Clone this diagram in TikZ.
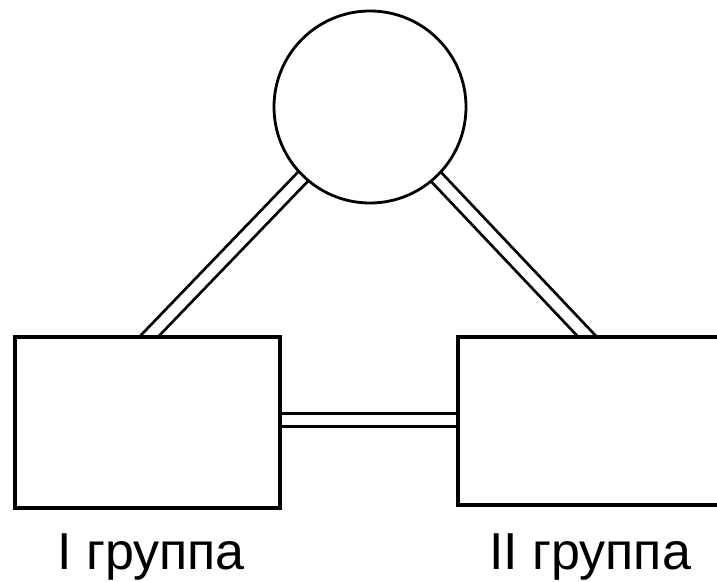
\documentclass[tikz,border=0pt]{standalone}
\usepackage{fontspec}
\setmainfont{Liberation Sans}
\usetikzlibrary{positioning,calc,backgrounds}

\begin{document}
\begin{tikzpicture}[
    hub/.style={circle, draw, line width=2pt, fill=white, minimum size=4.8cm, inner sep=0pt},
    groupbox/.style={rectangle, draw, line width=2.4pt, fill=white, inner sep=0pt},
    link/.style={draw, line width=2pt, double=white, double distance=7.5pt},
    lbl/.style={font=\fontsize{37}{40}\selectfont, anchor=base, inner sep=0pt}
  ]
  \clip (0,0) rectangle (17.925,14.55); % page frame
  % centre and the two groups
  \node[hub] (c) at (9.25,11.875) {};
  \node[groupbox, minimum width=6.625cm, minimum height=4.275cm] (g1) at (3.6875,3.9875) {};
  \node[groupbox, minimum width=7.05cm, minimum height=4.2cm] (g2) at (14.975,4.025) {};
  % labels
  \node[lbl] (l1) at (3.775,0.3) {I группа};
  \node[lbl] (l2) at (14.75,0.3) {II группа};
  % double links, drawn behind
  \coordinate (t1) at (3.45,5.85);
  \coordinate (t2) at (14.95,5.85);
  \coordinate (mid) at (9.25,4.05);
  \begin{scope}[on background layer]
    \draw[link] (c.center) -- (t1);
    \draw[link] (c.center) -- (t2);
    \draw[link] (g1 |- mid) -- (g2 |- mid);
  \end{scope}
\end{tikzpicture}
\end{document}
